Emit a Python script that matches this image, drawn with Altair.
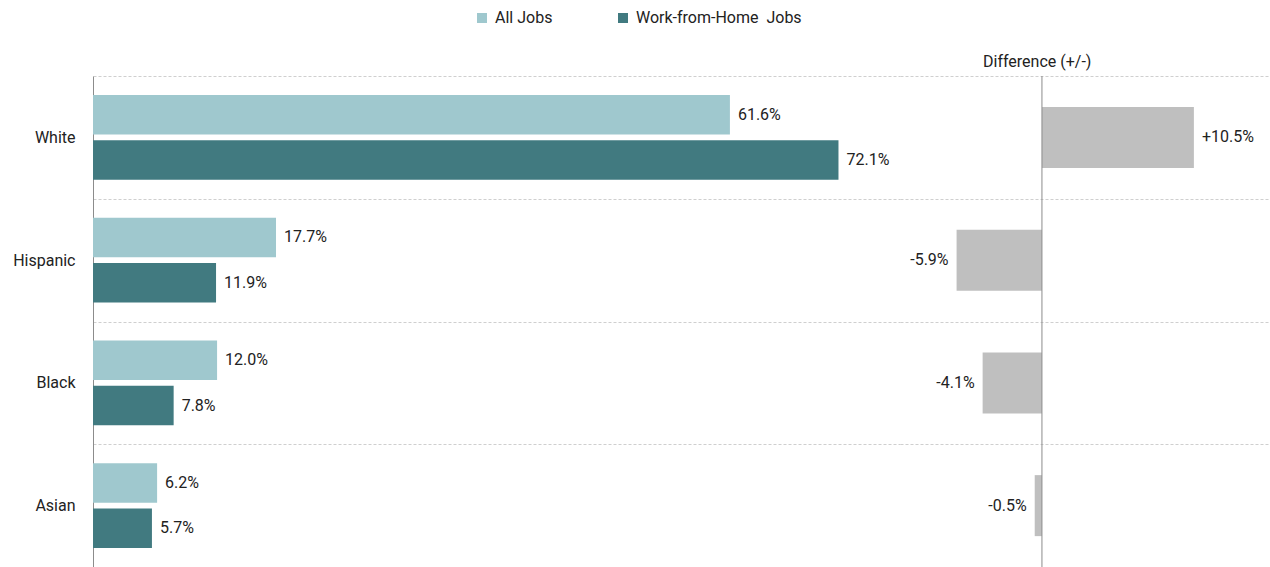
import altair as alt
import pandas as pd

categories = ["White", "Hispanic", "Black", "Asian"]
all_jobs = [61.6, 17.7, 12.0, 6.2]
wfh_jobs = [72.1, 11.9, 7.8, 5.7]
difference = [10.5, -5.9, -4.1, -0.5]
series = ["All Jobs", "Work-from-Home\u00a0 Jobs"]
colors = ["#9FC8CE", "#417A80"]
diff_color = "#BFBFBF"

rows = []
for c, a, w in zip(categories, all_jobs, wfh_jobs):
    rows.append({"cat": c, "series": series[0], "value": a})
    rows.append({"cat": c, "series": series[1], "value": w})
left_df = pd.DataFrame(rows)
diff_df = pd.DataFrame({"cat": categories, "diff": difference})

FONT = "Roboto"
FS = 16
TXT = "#222222"
H = 491

def y_enc(labels):
    return alt.Y(
        "cat:N",
        sort=categories,
        scale=alt.Scale(paddingInner=0, paddingOuter=0),
        axis=alt.Axis(
            title=None,
            labels=labels,
            labelFontSize=FS,
            labelFont=FONT,
            labelColor=TXT,
            labelPadding=18,
            ticks=False,
            domain=labels,
            domainColor="#8c8c8c",
            domainWidth=1,
            grid=True,
            gridDash=[3, 2],
            gridColor="#cfcfcf",
            gridWidth=1,
            tickBand="extent",
        ),
    )

left_x = alt.X("value:Q", scale=alt.Scale(domain=[0, 78.05], nice=False), axis=None)

left_base = alt.Chart(left_df).encode(
    y=y_enc(True),
    x=left_x,
    yOffset=alt.YOffset("series:N", sort=series,
                        scale=alt.Scale(paddingInner=0.13, paddingOuter=0.42)),
)

left_bars = left_base.mark_bar().encode(
    color=alt.Color(
        "series:N",
        scale=alt.Scale(domain=series, range=colors),
        legend=alt.Legend(
            title=None,
            orient="none",
            legendX=381,
            legendY=-66,
            direction="horizontal",
            symbolType="square",
            symbolSize=100,
            symbolStrokeWidth=0,
            labelFontSize=FS,
            labelFont=FONT,
            labelColor=TXT,
            labelLimit=400,
            columnPadding=62,
            labelOffset=5,
        ),
    )
)

left_text = left_base.transform_calculate(
    label="format(datum.value, '.1f') + '%'"
).mark_text(align="left", baseline="middle", dx=8, fontSize=FS, font=FONT, color=TXT).encode(
    text="label:N"
)

left = alt.layer(left_bars, left_text).properties(width=807, height=H)

right_scale = alt.Scale(domain=[-9.81, 15.76], nice=False, zero=False)

right_base = alt.Chart(diff_df).transform_calculate(
    label="(datum.diff >= 0 ? '+' : '-') + format(abs(datum.diff), '.1f') + '%'",
    zero="0",
).encode(y=y_enc(False), x=alt.X("diff:Q", scale=right_scale, axis=None))

right_bars = right_base.mark_bar(height=61, color=diff_color)
right_rule = right_base.transform_filter("datum.cat == 'White'").mark_rule(
    color="#8c8c8c", strokeWidth=1
).encode(x=alt.X("zero:Q", scale=right_scale, axis=None), y=alt.Y())
pos_text = right_base.transform_filter("datum.diff >= 0").mark_text(
    align="left", baseline="middle", dx=8, fontSize=FS, font=FONT, color=TXT
).encode(text="label:N")
neg_text = right_base.transform_filter("datum.diff < 0").mark_text(
    align="right", baseline="middle", dx=-8, fontSize=FS, font=FONT, color=TXT
).encode(text="label:N")

right = alt.layer(right_bars, right_rule, pos_text, neg_text).properties(
    width=370,
    height=H,
    title=alt.TitleParams(
        "Difference (+/-)",
        anchor="start",
        dx=83,
        fontSize=FS,
        font=FONT,
        fontWeight="normal",
        color=TXT,
        offset=6,
    ),
)

chart = alt.hconcat(left, right, spacing=0, bounds="flush").properties(
    padding={"left": 12, "top": 10, "right": 0, "bottom": 0},
    background="white",
).configure_view(strokeWidth=0, stroke=None)

chart.save("out.html", embed_options={"renderer": "svg", "actions": False})
